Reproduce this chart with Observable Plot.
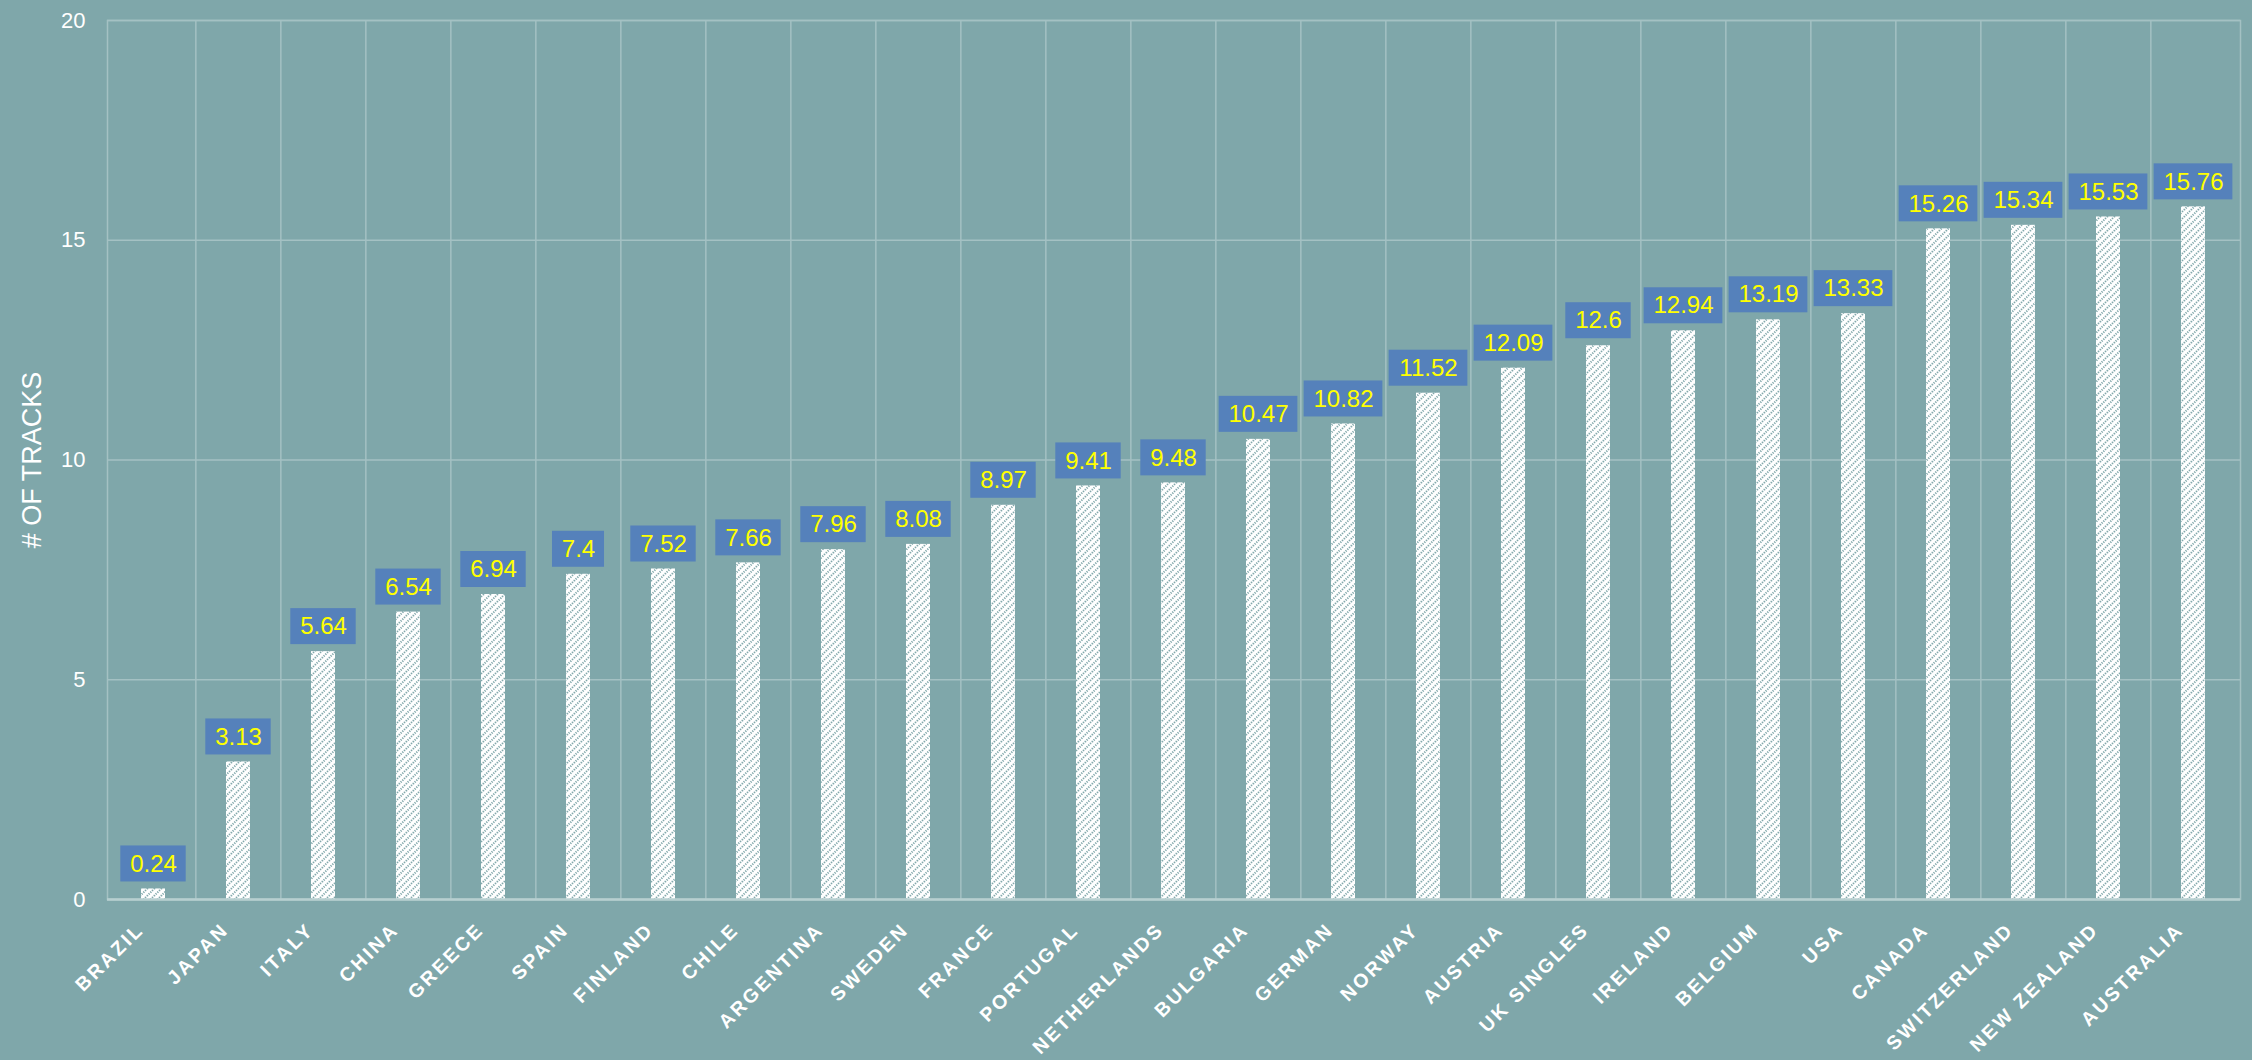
<!DOCTYPE html>
<html>
<head>
<meta charset="utf-8">
<script src="https://cdn.jsdelivr.net/npm/d3@7"></script>
<script src="https://cdn.jsdelivr.net/npm/@observablehq/plot@0.6"></script>
<style>
  html, body { margin: 0; padding: 0; background: #7fa7aa; }
  #chart svg { display: block; }
  [aria-label="x-axis tick label"] text { letter-spacing: 2.6px; }
</style>
</head>
<body>
<div id="chart"></div>
<script>
const categories = ["BRAZIL","JAPAN","ITALY","CHINA","GREECE","SPAIN","FINLAND","CHILE","ARGENTINA","SWEDEN","FRANCE","PORTUGAL","NETHERLANDS","BULGARIA","GERMAN","NORWAY","AUSTRIA","UK SINGLES","IRELAND","BELGIUM","USA","CANADA","SWITZERLAND","NEW ZEALAND","AUSTRALIA"];
const values = [0.24,3.13,5.64,6.54,6.94,7.4,7.52,7.66,7.96,8.08,8.97,9.41,9.48,10.47,10.82,11.52,12.09,12.6,12.94,13.19,13.33,15.26,15.34,15.53,15.76];
const yTicks = [0,5,10,15,20];
const yLabel = "# OF TRACKS";

const data = categories.map((c, i) => ({country: c, value: values[i], label: String(values[i])}));

const W = 2252, H = 1060;
const mL = 107, mR = 12, mT = 20, mB = 161;
const padInner = 0.715;
const step = (W - mL - mR) / categories.length;
const bw = step * (1 - padInner);

const bg = "#7fa7aa";
const grid = "#a4c1c3";
const boxColor = "#5581bb";
const labelFont = "24px 'Liberation Sans', Arial, sans-serif";

// measure label widths
const ctx = document.createElement("canvas").getContext("2d");
ctx.font = labelFont;
const widthOf = s => ctx.measureText(s).width;

// group labels by length (digits share widths)
const groups = d3.groups(data, d => d.label.length);
const boxMarks = groups.map(([len, rows]) => {
  const w = widthOf(rows[0].label) + 19;
  const inset = -(w - bw) / 2;
  return Plot.barY(rows, {
    x: "country", y1: "value", y2: "value",
    fill: boxColor,
    insetLeft: inset, insetRight: inset,
    insetTop: -43, insetBottom: 7
  });
});

const defs = () => {
  const ns = "http://www.w3.org/2000/svg";
  const d = document.createElementNS(ns, "defs");
  d.innerHTML = `<pattern id="hatch" patternUnits="userSpaceOnUse" width="7" height="7">
      <rect width="7" height="7" fill="#ffffff"/>
      <path d="M-1.75,1.75 L1.75,-1.75 M0,7 L7,0 M5.25,8.75 L8.75,5.25" stroke="${bg}" stroke-width="2" stroke-dasharray="1.2 1.2"/>
    </pattern>`;
  return d;
};

const chart = Plot.plot({
  width: W,
  height: H,
  marginLeft: mL, marginRight: mR, marginTop: mT, marginBottom: mB,
  style: {background: bg, color: "#ffffff", fontFamily: "'Liberation Sans', Arial, sans-serif"},
  x: {domain: categories, paddingInner: padInner, paddingOuter: padInner / 2, label: null},
  y: {domain: [0, 20], label: null},
  marks: [
    defs,
    Plot.ruleY(yTicks, {stroke: grid, strokeWidth: 1.5}),
    Plot.ruleX(categories.slice(1), {x: d => d, dx: -step / 2, stroke: grid, strokeWidth: 1.5}),
    Plot.frame({stroke: grid, strokeWidth: 1.5}),
    Plot.barY(data, {x: "country", y: "value", fill: "url(#hatch)"}),
    ...boxMarks,
    Plot.text(data, {x: "country", y: "value", text: "label", dy: -25, fill: "#ffff00", fontSize: 24, lineAnchor: "middle"}),
    Plot.ruleY([0], {stroke: "#b7cfd0", strokeWidth: 2.5}),
    Plot.axisY({ticks: yTicks, tickSize: 0, tickPadding: 22, fontSize: 22, fill: "#ffffff", label: null, tickFormat: d => String(d)}),
    Plot.axisX({tickSize: 0, tickRotate: -45, tickPadding: 30, dx: -13, dy: -3, fontSize: 19.5, fontWeight: "bold", fill: "#ffffff", label: null}),
    Plot.text([yLabel], {text: d => d, frameAnchor: "left", rotate: -90, dx: -75, fontSize: 27, fill: "#ffffff", textAnchor: "middle"})
  ]
});
document.getElementById("chart").appendChild(chart);
</script>
</body>
</html>
